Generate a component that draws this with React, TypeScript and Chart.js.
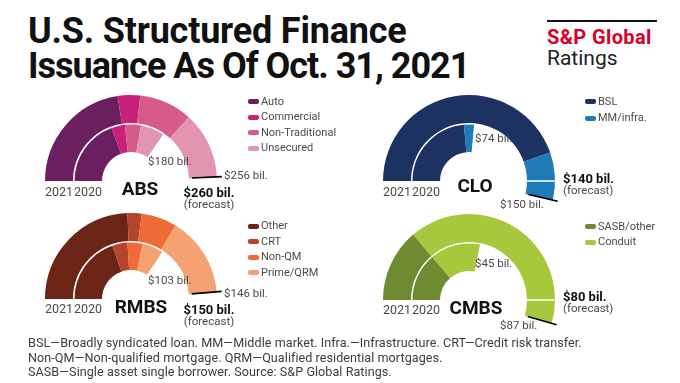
import React, { useEffect, useRef } from "react";
import { Chart, registerables } from "chart.js";
Chart.register(...registerables);

// ---------- data ----------
const absCategories = ["Auto", "Commercial", "Non-Traditional", "Unsecured"];
const abs2021 = [117, 22, 52, 65];
const abs2020 = [101, 20, 24, 35];
const absForecast = 260;
const absColors = ["#6b1f5f", "#c9207a", "#d65a8a", "#e295b1"];

const rmbsCategories = ["Other", "CRT", "Non-QM", "Prime/QRM"];
const rmbs2021 = [73, 8, 20, 45];
const rmbs2020 = [59, 13, 13, 18];
const rmbsForecast = 150;
const rmbsColors = ["#6b2416", "#b4452a", "#ee6a37", "#f5a273"];

const cloCategories = ["BSL", "MM/infra."];
const clo2021 = [125, 25];
const clo2020 = [66, 8];
const cloForecast = 140;
const cloColors = ["#1c3362", "#1f7bb8"];

const cmbsCategories = ["SASB/other", "Conduit"];
const cmbs2021 = [22, 65];
const cmbs2020 = [22, 23];
const cmbsForecast = 80;
const cmbsColors = ["#6e8b32", "#a7c73d"];

const yearLabels = ["2021", "2020"];
const titleLines = ["U.S. Structured Finance", "Issuance As Of Oct. 31, 2021"];
const footLines = [
  "BSL\u2014Broadly syndicated loan. MM\u2014Middle market. Infra.\u2014Infrastructure. CRT\u2014Credit risk transfer.",
  "Non-QM\u2014Non-qualified mortgage. QRM\u2014Qualified residential mortgages.",
  "SASB\u2014Single asset single borrower. Source: S&P Global Ratings.",
];

const FONT = "Roboto, 'Noto Sans', sans-serif";
const GRAY = "#4a4a4a";
const sum = (a: number[]) => a.reduce((s, v) => s + v, 0);

const markPlugin = {
  id: "gaugeMarks",
  afterDatasetsDraw(chart: any) {
    const meta = chart.getDatasetMeta(0);
    const arcs = meta.data;
    if (!arcs.length) return;
    const last = arcs[arcs.length - 1];
    const { x, y, endAngle, outerRadius, innerRadius } = last.getProps(
      ["x", "y", "endAngle", "outerRadius", "innerRadius"],
      true
    );
    const ctx = chart.ctx;
    ctx.save();
    if (endAngle > 0) {
      ctx.strokeStyle = "#ffffff";
      ctx.lineWidth = 1.5;
      ctx.beginPath();
      ctx.moveTo(x + innerRadius, y);
      ctx.lineTo(x + outerRadius, y);
      ctx.stroke();
    }
    ctx.strokeStyle = "#000000";
    ctx.lineWidth = 1.6;
    ctx.beginPath();
    ctx.moveTo(x + Math.cos(endAngle) * (innerRadius + 3), y + Math.sin(endAngle) * (innerRadius + 3));
    ctx.lineTo(x + Math.cos(endAngle) * (outerRadius + 5), y + Math.sin(endAngle) * (outerRadius + 5));
    ctx.stroke();
    ctx.restore();
  },
};

const SIZE = 210;

function Gauge({ cx, cy, v2021, v2020, forecast, colors, categories }: any) {
  const ref = useRef<HTMLCanvasElement>(null);
  useEffect(() => {
    const c1 = (sum(v2021) / forecast) * 180;
    const c2 = (sum(v2020) / forecast) * 180;
    const chart = new Chart(ref.current as HTMLCanvasElement, {
      type: "doughnut",
      data: {
        labels: categories,
        datasets: [
          { data: v2021, backgroundColor: colors, borderWidth: 0, circumference: c1, weight: 28 } as any,
          { data: [1], backgroundColor: "rgba(0,0,0,0)", borderWidth: 0, circumference: c2, weight: 1.5 } as any,
          { data: v2020, backgroundColor: colors, borderWidth: 0, circumference: c2, weight: 27.5 } as any,
          { data: [1], backgroundColor: "rgba(0,0,0,0)", borderWidth: 0, weight: 0 } as any,
        ],
      },
      options: {
        responsive: false,
        animation: false,
        events: [],
        rotation: -90,
        circumference: 360,
        radius: 86,
        cutout: "33.7%",
        layout: { padding: 0 },
        plugins: { legend: { display: false }, tooltip: { enabled: false } },
      } as any,
      plugins: [markPlugin],
    });
    return () => chart.destroy();
  }, []);
  return (
    <canvas
      ref={ref}
      width={SIZE}
      height={SIZE}
      style={{ position: "absolute", left: cx - SIZE / 2, top: cy - SIZE / 2, width: SIZE, height: SIZE }}
    />
  );
}

function T({ x, y, children, size = 12, weight = 400, color = GRAY, align = "left", ls = 0 }: any) {
  const h = Math.round(size * 1.3);
  return (
    <div
      style={{
        position: "absolute",
        left: x,
        top: y - h / 2,
        height: h,
        lineHeight: h + "px",
        fontSize: size,
        fontWeight: weight,
        color,
        fontFamily: FONT,
        whiteSpace: "nowrap",
        letterSpacing: ls,
        transform: align === "center" ? "translateX(-50%)" : undefined,
      }}
    >
      {children}
    </div>
  );
}

function Legend({ x, y0, step, categories, colors }: any) {
  return (
    <>
      {categories.map((c: string, i: number) => (
        <React.Fragment key={c}>
          <div
            style={{
              position: "absolute",
              left: x,
              top: y0 + i * step - 2.5,
              width: 11,
              height: 5,
              borderRadius: 2,
              background: colors[i],
            }}
          />
          <T x={x + 13} y={y0 + i * step} size={11}>
            {c}
          </T>
        </React.Fragment>
      ))}
    </>
  );
}

function Panel({ cx, cy, name, v2021, v2020, forecast, colors, categories, lay }: any) {
  return (
    <>
      <Gauge cx={cx} cy={cy} v2021={v2021} v2020={v2020} forecast={forecast} colors={colors} categories={categories} />
      <T x={cx - 72} y={cy + lay.yearDy} size={12.5} align="center">{yearLabels[0]}</T>
      <T x={cx - 43} y={cy + lay.yearDy} size={12.5} align="center">{yearLabels[1]}</T>
      <T x={cx + lay.nameDx} y={cy + lay.nameDy} size={19} weight={700} color="#111" align="center">{name}</T>
      <T x={lay.v2020[0]} y={lay.v2020[1]} size={11.5}>{"$" + sum(v2020) + " bil."}</T>
      <T x={lay.v2021[0]} y={lay.v2021[1]} size={11.5}>{"$" + sum(v2021) + " bil."}</T>
      <T x={lay.fc[0]} y={lay.fc[1]} size={13} weight={700} color="#111" align={lay.fcAlign}>{"$" + forecast + " bil."}</T>
      <T x={lay.fc[0]} y={lay.fc[1] + 12} size={11.5} align={lay.fcAlign}>(forecast)</T>
      <Legend x={lay.leg[0]} y0={lay.leg[1]} step={lay.leg[2]} categories={categories} colors={colors} />
    </>
  );
}

export default function App() {
  return (
    <div style={{ position: "absolute", left: 0, top: 0, width: 680, height: 383, background: "#fff", overflow: "hidden" }}>
      <T x={28} y={31} size={36} weight={700} color="#111" ls={-0.2}>{titleLines[0]}</T>
      <T x={28} y={66} size={36} weight={700} color="#111" ls={-1.0}>{titleLines[1]}</T>
      <div style={{ position: "absolute", left: 547, top: 20, width: 110, height: 2, background: "#111" }} />
      <T x={547} y={37} size={20} weight={700} color="#d6002a" ls={0.4}>S&amp;P Global</T>
      <T x={547} y={58} size={21} weight={400} color="#222">Ratings</T>

      <Panel
        cx={131} cy={181} name="ABS" v2021={abs2021} v2020={abs2020} forecast={absForecast}
        colors={absColors} categories={absCategories}
        lay={{ yearDy: 11, nameDx: 9, nameDy: 7, v2020: [148, 161], v2021: [224, 175], fc: [209, 192], fcAlign: "center", leg: [248, 101.5, 15.6] }}
      />
      <Panel
        cx={131} cy={299} name="RMBS" v2021={rmbs2021} v2020={rmbs2020} forecast={rmbsForecast}
        colors={rmbsColors} categories={rmbsCategories}
        lay={{ yearDy: 10, nameDx: 10, nameDy: 7, v2020: [148, 280], v2021: [224, 293], fc: [209, 309], fcAlign: "center", leg: [248, 226, 15.6] }}
      />
      <Panel
        cx={469} cy={181} name="CLO" v2021={clo2021} v2020={clo2020} forecast={cloForecast}
        colors={cloColors} categories={cloCategories}
        lay={{ yearDy: 11, nameDx: 6, nameDy: 4, v2020: [475, 138], v2021: [500, 204], fc: [563, 178], fcAlign: "left", leg: [585, 101.7, 16.6] }}
      />
      <Panel
        cx={469} cy={300} name="CMBS" v2021={cmbs2021} v2020={cmbs2020} forecast={cmbsForecast}
        colors={cmbsColors} categories={cmbsCategories}
        lay={{ yearDy: 10, nameDx: 7, nameDy: 7, v2020: [475, 263], v2021: [500, 325], fc: [563, 296], fcAlign: "left", leg: [585, 226.7, 15.6] }}
      />

      {footLines.map((l, i) => (
        <T key={i} x={28} y={343 + i * 14.6} size={12.6} color="#3c3c3c" ls={0.05}>{l}</T>
      ))}
    </div>
  );
}
